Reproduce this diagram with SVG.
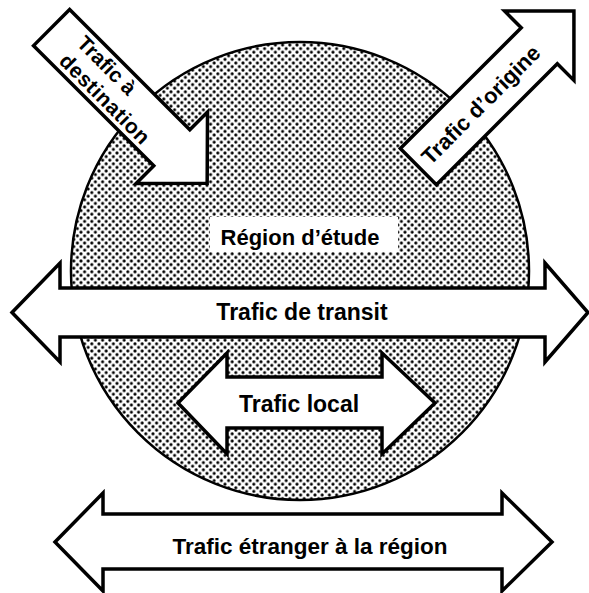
<svg xmlns="http://www.w3.org/2000/svg" width="589" height="593" viewBox="0 0 589 593">
<defs>
<pattern id="dots" width="7.2" height="7.2" patternUnits="userSpaceOnUse">
<rect width="7.2" height="7.2" fill="#fff"/>
<circle cx="1.8" cy="1.8" r="1.55" fill="#000"/>
<circle cx="5.4" cy="5.4" r="1.55" fill="#000"/>
</pattern>
</defs>
<style>
.arrow{fill:#fff;stroke:#000;stroke-width:3.5;stroke-linejoin:miter}
.lbl{font-family:"Liberation Sans",Arial,sans-serif;font-weight:bold;fill:#000}
</style>
<rect width="589" height="593" fill="#fff"/>
<g id="region">
<circle cx="300" cy="271" r="229" fill="url(#dots)" stroke="#000" stroke-width="2.5"/>
<rect x="210" y="217" width="188" height="35" fill="#fff"/>
<text class="lbl" x="300" y="245" font-size="22" text-anchor="middle">Région d’étude</text>
</g>
<g id="arrow-destination" transform="translate(12,-12) rotate(45)">
<polygon class="arrow" points="56,-25.5 226,-25.5 226,-50.5 276,0 226,50.5 226,25.5 56,25.5"/>
<text class="lbl" x="85" y="-5" font-size="21">Trafic à</text>
<text class="lbl" x="85" y="20" font-size="21" textLength="118" lengthAdjust="spacing">destination</text>
</g>
<g id="arrow-origine" transform="translate(292.5,292.5) rotate(-45)">
<polygon class="arrow" points="178,-25.5 349,-25.5 349,-49 398,0 349,49 349,25.5 178,25.5"/>
<text class="lbl" x="266" y="8" font-size="22" text-anchor="middle">Trafic d’origine</text>
</g>
<g id="arrow-transit">
<polygon class="arrow" points="12,312.5 60,263 60,288 545,288 545,263 588,312.5 545,362 545,337 60,337 60,362"/>
<text class="lbl" x="302" y="320" font-size="23" text-anchor="middle">Trafic de transit</text>
</g>
<g id="arrow-local">
<polygon class="arrow" points="178,403 227,353 227,377 382,377 382,353 435,403 382,454 382,428 227,428 227,454"/>
<text class="lbl" x="299" y="412" font-size="23" text-anchor="middle">Trafic local</text>
</g>
<g id="arrow-etranger">
<polygon class="arrow" points="55,542 103,493 103,514 502,514 502,493 552,542 502,591 502,569 103,569 103,591"/>
<text class="lbl" x="310" y="554" font-size="22.5" text-anchor="middle">Trafic étranger à la région</text>
</g>
<g id="connectors"/>
</svg>
